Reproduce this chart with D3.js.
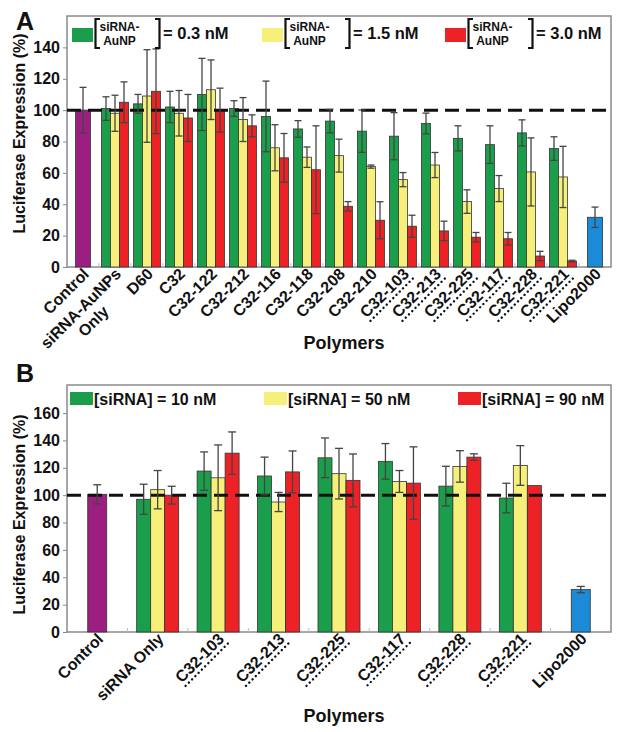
<!DOCTYPE html>
<html><head><meta charset="utf-8">
<script src="https://cdn.jsdelivr.net/npm/d3@7/dist/d3.min.js"></script>
<style>
body{margin:0;background:#fff;}
svg{display:block;}
text{font-family:"Liberation Sans",Arial,Helvetica,sans-serif;font-weight:bold;fill:#111;}
</style></head>
<body>
<svg id="chart" width="624" height="732"></svg>
<script>
// ---------- Panel A data ----------
const catsA = ["Control","siRNA-AuNPs Only","D60","C32","C32-122","C32-212","C32-116","C32-118","C32-208","C32-210","C32-103","C32-213","C32-225","C32-117","C32-228","C32-221","Lipo2000"];
const groupCatsA = catsA.slice(1, 16);
const seriesNamesA = ["0.3 nM","1.5 nM","3.0 nM"];
const a03 =    [101,104,102,110,101,96,88,93,86.6,83.4,91.5,82,78,85.5,75.5];
const a03Err = [7.5,6,10,23,5,22.5,5.3,7.5,13.5,15,6.6,8,12,8.3,7.5];
const a15 =    [98,109,98,113,94,76,70,71,64,55.7,65,41.7,50,60.6,57.4];
const a15Err = [11.5,29.5,14.5,19,14,14.7,6.5,10.5,1,4.5,8,7.5,8.3,21.7,19.5];
const a30 =    [105,112,95,100,90,69.6,62,38.7,29.8,26,23,19,18,7,3.8];
const a30Err = [13,27,15,14,7,15.5,28,3,11.8,7,6.2,3,4,3,0.5];
const aControl = 100, aControlErr = 14.5;
const aLipo = 31.7, aLipoErr = 6.5;
const ticksA = [0,20,40,60,80,100,120,140];

// ---------- Panel B data ----------
const catsB = ["Control","siRNA Only","C32-103","C32-213","C32-225","C32-117","C32-228","C32-221","Lipo2000"];
const groupCatsB = catsB.slice(1, 8);
const seriesNamesB = ["10 nM","50 nM","90 nM"];
const b10 =    [97,117.6,114,127.3,124.7,106.6,97.9];
const b10Err = [11,14,13.8,14.5,13,14.5,10.8];
const b50 =    [104,112.7,95,115.7,110,121,121.7];
const b50Err = [14,24,7,18.5,8,11.5,14.5];
const b90 =    [100,130.7,117,110.8,108.8,127.8,107];
const b90Err = [6.5,15.5,15.3,19.3,26.5,2.4,0];
const bControl = 100.6, bControlErr = 7;
const bLipo = 31, bLipoErr = 2.3;
const ticksB = [0,20,40,60,80,100,120,140,160];

const dottedCats = ["C32-103","C32-213","C32-225","C32-117","C32-228","C32-221"];
const colors = ["#1b9e4b","#f6f07a","#ec2227"];
const purple = "#9c1e80", blue = "#1b8bd8";

const svg = d3.select("#chart");

function panel(cfg){
  const g = svg.append("g");
  const x = d3.scaleBand().domain(cfg.cats).range([cfg.left, cfg.right]);
  const y = d3.scaleLinear().domain([0, cfg.ymax]).range([cfg.bottom, cfg.top]);
  g.append("rect").attr("x",cfg.left).attr("y",cfg.top)
    .attr("width",cfg.right-cfg.left).attr("height",cfg.bottom-cfg.top)
    .attr("fill","none").attr("stroke","#8a8a8a").attr("stroke-width",1.5);
  const yAxis = d3.axisLeft(y).tickValues(cfg.ticks).tickSize(4).tickPadding(3).tickFormat(d3.format("d"));
  const ya = g.append("g").attr("transform",`translate(${cfg.left},0)`).call(yAxis);
  ya.select(".domain").remove();
  ya.selectAll("line").attr("stroke","#888");
  ya.selectAll("text").style("font-size","16px").style("font-family",'"Liberation Sans",Arial,sans-serif').style("font-weight","bold").attr("fill","#111");
  g.selectAll(".bt").data(cfg.cats.slice(1)).join("line")
    .attr("x1",d=>x(d)).attr("x2",d=>x(d)).attr("y1",cfg.bottom).attr("y2",cfg.bottom-4)
    .attr("stroke","#bbb").attr("stroke-width",1);

  const errG = [];
  const singles = [
    {cat:cfg.cats[0], v:cfg.control, e:cfg.controlErr, c:purple},
    {cat:cfg.cats[cfg.cats.length-1], v:cfg.lipo, e:cfg.lipoErr, c:blue}
  ];
  singles.forEach(s=>{
    const cx = x(s.cat)+x.bandwidth()/2;
    g.append("rect").attr("x",cx-cfg.singleW/2).attr("y",y(s.v))
      .attr("width",cfg.singleW).attr("height",y(0)-y(s.v))
      .attr("fill",s.c).attr("stroke","#333").attr("stroke-width",0.8);
    errG.push({cx, v:s.v, e:s.e});
  });
  const xs = d3.scaleBand().domain([0,1,2]).range([-cfg.groupW/2, cfg.groupW/2]);
  cfg.series.forEach((ser, si)=>{
    cfg.groupCats.forEach((cat, i)=>{
      const cx = x(cat)+x.bandwidth()/2;
      const bx = cx + xs(si);
      g.append("rect").attr("x",bx).attr("y",y(ser.v[i]))
        .attr("width",xs.bandwidth()).attr("height",y(0)-y(ser.v[i]))
        .attr("fill",colors[si]).attr("stroke","#333").attr("stroke-width",0.8);
      if (ser.e[i] > 0) errG.push({cx: bx + xs.bandwidth()/2, v:ser.v[i], e:ser.e[i]});
    });
  });
  g.append("line").attr("x1",cfg.left).attr("x2",cfg.right).attr("y1",y(100)).attr("y2",y(100))
    .attr("stroke","#111").attr("stroke-width",3).attr("stroke-dasharray","14,7");
  errG.forEach(d=>{
    const top = Math.min(d.v+d.e, cfg.errClip);
    const lo = d.v-d.e;
    g.append("line").attr("x1",d.cx).attr("x2",d.cx).attr("y1",y(top)).attr("y2",y(lo))
      .attr("stroke","#444").attr("stroke-width",1.3);
    [d.v+d.e <= cfg.errClip ? d.v+d.e : null, lo].forEach(vv=>{
      if (vv===null) return;
      g.append("line").attr("x1",d.cx-cfg.cap).attr("x2",d.cx+cfg.cap).attr("y1",y(vv)).attr("y2",y(vv))
        .attr("stroke","#444").attr("stroke-width",1.3);
    });
  });
  cfg.cats.forEach(cat=>{
    const cx = x(cat)+x.bandwidth()/2;
    const lg = g.append("g").attr("transform",`translate(${cx+7},${cfg.bottom+8}) rotate(-45)`);
    const parts = cat === "siRNA-AuNPs Only" ? ["siRNA-AuNPs","Only"] : [cat];
    const t1 = lg.append("text").attr("text-anchor","end").attr("x",0).attr("y",0)
      .style("font-size","16px").text(parts[0]);
    const len = t1.node().getComputedTextLength();
    if (parts.length>1){
      lg.append("text").attr("text-anchor","middle").attr("x",-len/2).attr("y",18)
        .style("font-size","16px").text(parts[1]);
    }
    if (dottedCats.includes(cat)){
      lg.append("line").attr("x1",-len+1).attr("x2",4).attr("y1",4.5).attr("y2",4.5)
        .attr("stroke","#111").attr("stroke-width",2.4).attr("stroke-linecap","round")
        .attr("stroke-dasharray","0,4.6");
    }
  });
  g.append("text").attr("text-anchor","middle")
    .attr("transform",`translate(${cfg.yTitleX},${(cfg.top+cfg.bottom)/2+cfg.yTitleDy}) rotate(-90)`)
    .style("font-size","16px").text("Luciferase Expression (%)");
  g.append("text").attr("text-anchor","middle").attr("x",344).attr("y",cfg.xTitleY)
    .style("font-size","18px").text("Polymers");
  g.append("text").attr("x",16).attr("y",cfg.letterY).style("font-size","25px").text(cfg.letter);
  return {g,x,y};
}

const A = panel({
  cats:catsA, groupCats:groupCatsA, left:67, right:611, top:16, bottom:267, ymax:160, ticks:ticksA,
  control:aControl, controlErr:aControlErr, lipo:aLipo, lipoErr:aLipoErr,
  series:[{v:a03,e:a03Err},{v:a15,e:a15Err},{v:a30,e:a30Err}],
  singleW:15, groupW:27, cap:3.5, errClip:139,
  yTitleX:25, yTitleDy:-8, xTitleY:349, letter:"A", letterY:30
});
const B = panel({
  cats:catsB, groupCats:groupCatsB, left:67, right:611, top:385, bottom:632, ymax:180.5, ticks:ticksB,
  control:bControl, controlErr:bControlErr, lipo:bLipo, lipoErr:bLipoErr,
  series:[{v:b10,e:b10Err},{v:b50,e:b50Err},{v:b90,e:b90Err}],
  singleW:19, groupW:42, cap:4, errClip:999,
  yTitleX:25, yTitleDy:6, xTitleY:722, letter:"B", letterY:382
});

// legend A
const legA = svg.append("g");
const legAx = [72, 262, 445];
seriesNamesA.forEach((name,i)=>{
  const lx = legAx[i];
  const lg = legA.append("g").attr("transform",`translate(${lx},0)`);
  lg.append("rect").attr("x",0).attr("y",28).attr("width",21).attr("height",14).attr("fill",colors[i]);
  lg.append("path").attr("d","M28,19 L23.5,19 L23.5,48 L28,48").attr("fill","none").attr("stroke","#111").attr("stroke-width",2.2);
  lg.append("text").attr("x",47.5).attr("y",31).attr("text-anchor","middle").style("font-size","12px").text("siRNA-");
  lg.append("text").attr("x",47.5).attr("y",45).attr("text-anchor","middle").style("font-size","12px").text("AuNP");
  lg.append("path").attr("d","M83,19 L87.5,19 L87.5,48 L83,48").attr("fill","none").attr("stroke","#111").attr("stroke-width",2.2);
  lg.append("text").attr("x",91).attr("y",39).style("font-size","16.5px").text("= " + name);
});
// legend B
const legB = svg.append("g");
const legBx = [70, 264, 458];
seriesNamesB.forEach((name,i)=>{
  const lg = legB.append("g").attr("transform",`translate(${legBx[i]},0)`);
  lg.append("rect").attr("x",0).attr("y",392).attr("width",23).attr("height",13).attr("fill",colors[i]);
  lg.append("text").attr("x",24).attr("y",405).style("font-size","16px").text("[siRNA] = " + name);
});
</script>
</body></html>
